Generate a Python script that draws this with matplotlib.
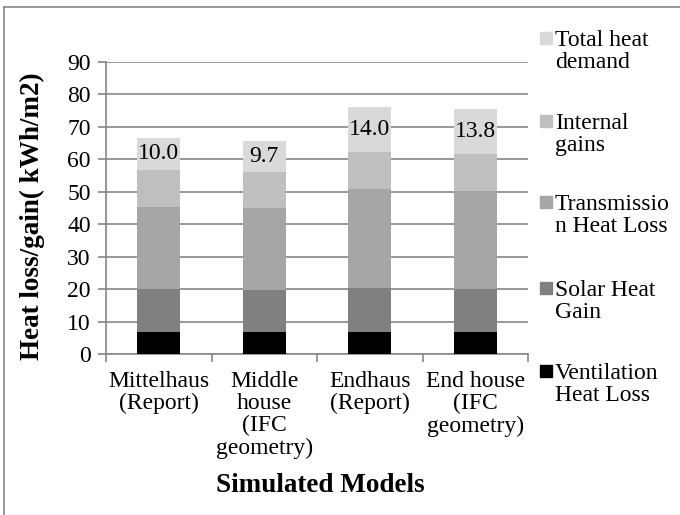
import matplotlib
matplotlib.use("Agg")
import matplotlib.pyplot as plt
from matplotlib.lines import Line2D
from matplotlib.patches import Rectangle
import numpy as np

plt.rcParams['font.family'] = ['Liberation Serif', 'DejaVu Serif']

# data (kWh/m2)
models = ["Mittelhaus\n(Report)", "Middle\nhouse\n(IFC\ngeometry)",
          "Endhaus\n(Report)", "End house\n(IFC\ngeometry)"]
ventilation = [6.9, 6.9, 6.8, 6.8]
solar = [13.0, 12.9, 13.4, 13.3]
transmission = [25.4, 25.0, 30.6, 30.1]
internal = [11.3, 11.2, 11.3, 11.4]
total_demand = [10.0, 9.7, 14.0, 13.8]

series = [
    ("Ventilation\nHeat Loss", ventilation, "#000000"),
    ("Solar Heat\nGain", solar, "#808080"),
    ("Transmissio\nn Heat Loss", transmission, "#a6a6a6"),
    ("Internal\ngains", internal, "#bfbfbf"),
    ("Total heat\ndemand", total_demand, "#d9d9d9"),
]

W, H = 680, 515
fig = plt.figure(figsize=(6.8, 5.15), dpi=100)
ax = fig.add_axes([106 / W, 1 - 354 / H, (528 - 106) / W, (354 - 61.7) / H])

fs = 17
fs_title = 19.5
grid_c = "#868686"
x = np.arange(len(models))
bottom = np.zeros(len(models))
for name, vals, col in series:
    bars = ax.bar(x, vals, 0.41, bottom=bottom, color=col, zorder=3)
    bottom += np.array(vals)
# labels for total heat demand, centred in the top segment
ax.bar_label(bars, labels=["%.1f" % v for v in total_demand],
             label_type="center", fontsize=fs, zorder=4)

ax.set_xlim(-0.5, len(models) - 0.5)
ax.set_ylim(0, 90)
ax.set_yticks(np.arange(0, 91, 10))
ax.yaxis.grid(True, color=grid_c, linewidth=1.2, zorder=0)
ax.set_xticks(x)
ax.set_xticklabels(models, fontsize=fs, linespacing=1.08)
ax.set_xticks(np.arange(-0.5, len(models)), minor=True)
ax.tick_params(axis="x", which="major", length=0, pad=12)
ax.tick_params(axis="x", which="minor", length=6, color=grid_c, width=1.2)
ax.tick_params(axis="y", length=6, color=grid_c, width=1.2, labelsize=fs, pad=5)
for s in ["top", "right"]:
    ax.spines[s].set_visible(False)
for s in ["left", "bottom"]:
    ax.spines[s].set_color(grid_c)
    ax.spines[s].set_linewidth(1.2)

fig.text(32 / W, 1 - 216 / H, "Heat loss/gain( kWh/m2)", fontsize=fs_title,
         fontweight="bold", rotation=90, ha="center", va="center")
fig.text(320 / W, 1 - 485 / H, "Simulated Models", fontsize=fs_title,
         fontweight="bold", ha="center", va="center")

# manual legend, top entry first
legend_y = [38, 121, 202, 288, 371]
for (name, vals, col), yy in zip(series[::-1], legend_y):
    fig.patches.append(Rectangle((540 / W, 1 - (yy + 6) / H), 12 / W, 12 / H,
                                 transform=fig.transFigure, color=col))
    fig.text(555 / W, 1 - (yy - 8) / H, name, fontsize=fs, va="top",
             ha="left", linespacing=1.08)

# chart frame edges visible in the reference
fig.lines.append(Line2D([4 / W, 4 / W], [0, 1 - 7 / H], transform=fig.transFigure,
                        color=grid_c, linewidth=1.2))
fig.lines.append(Line2D([4 / W, 1], [1 - 7 / H, 1 - 7 / H], transform=fig.transFigure,
                        color=grid_c, linewidth=1.2))

fig.savefig("out.png", dpi=100)
